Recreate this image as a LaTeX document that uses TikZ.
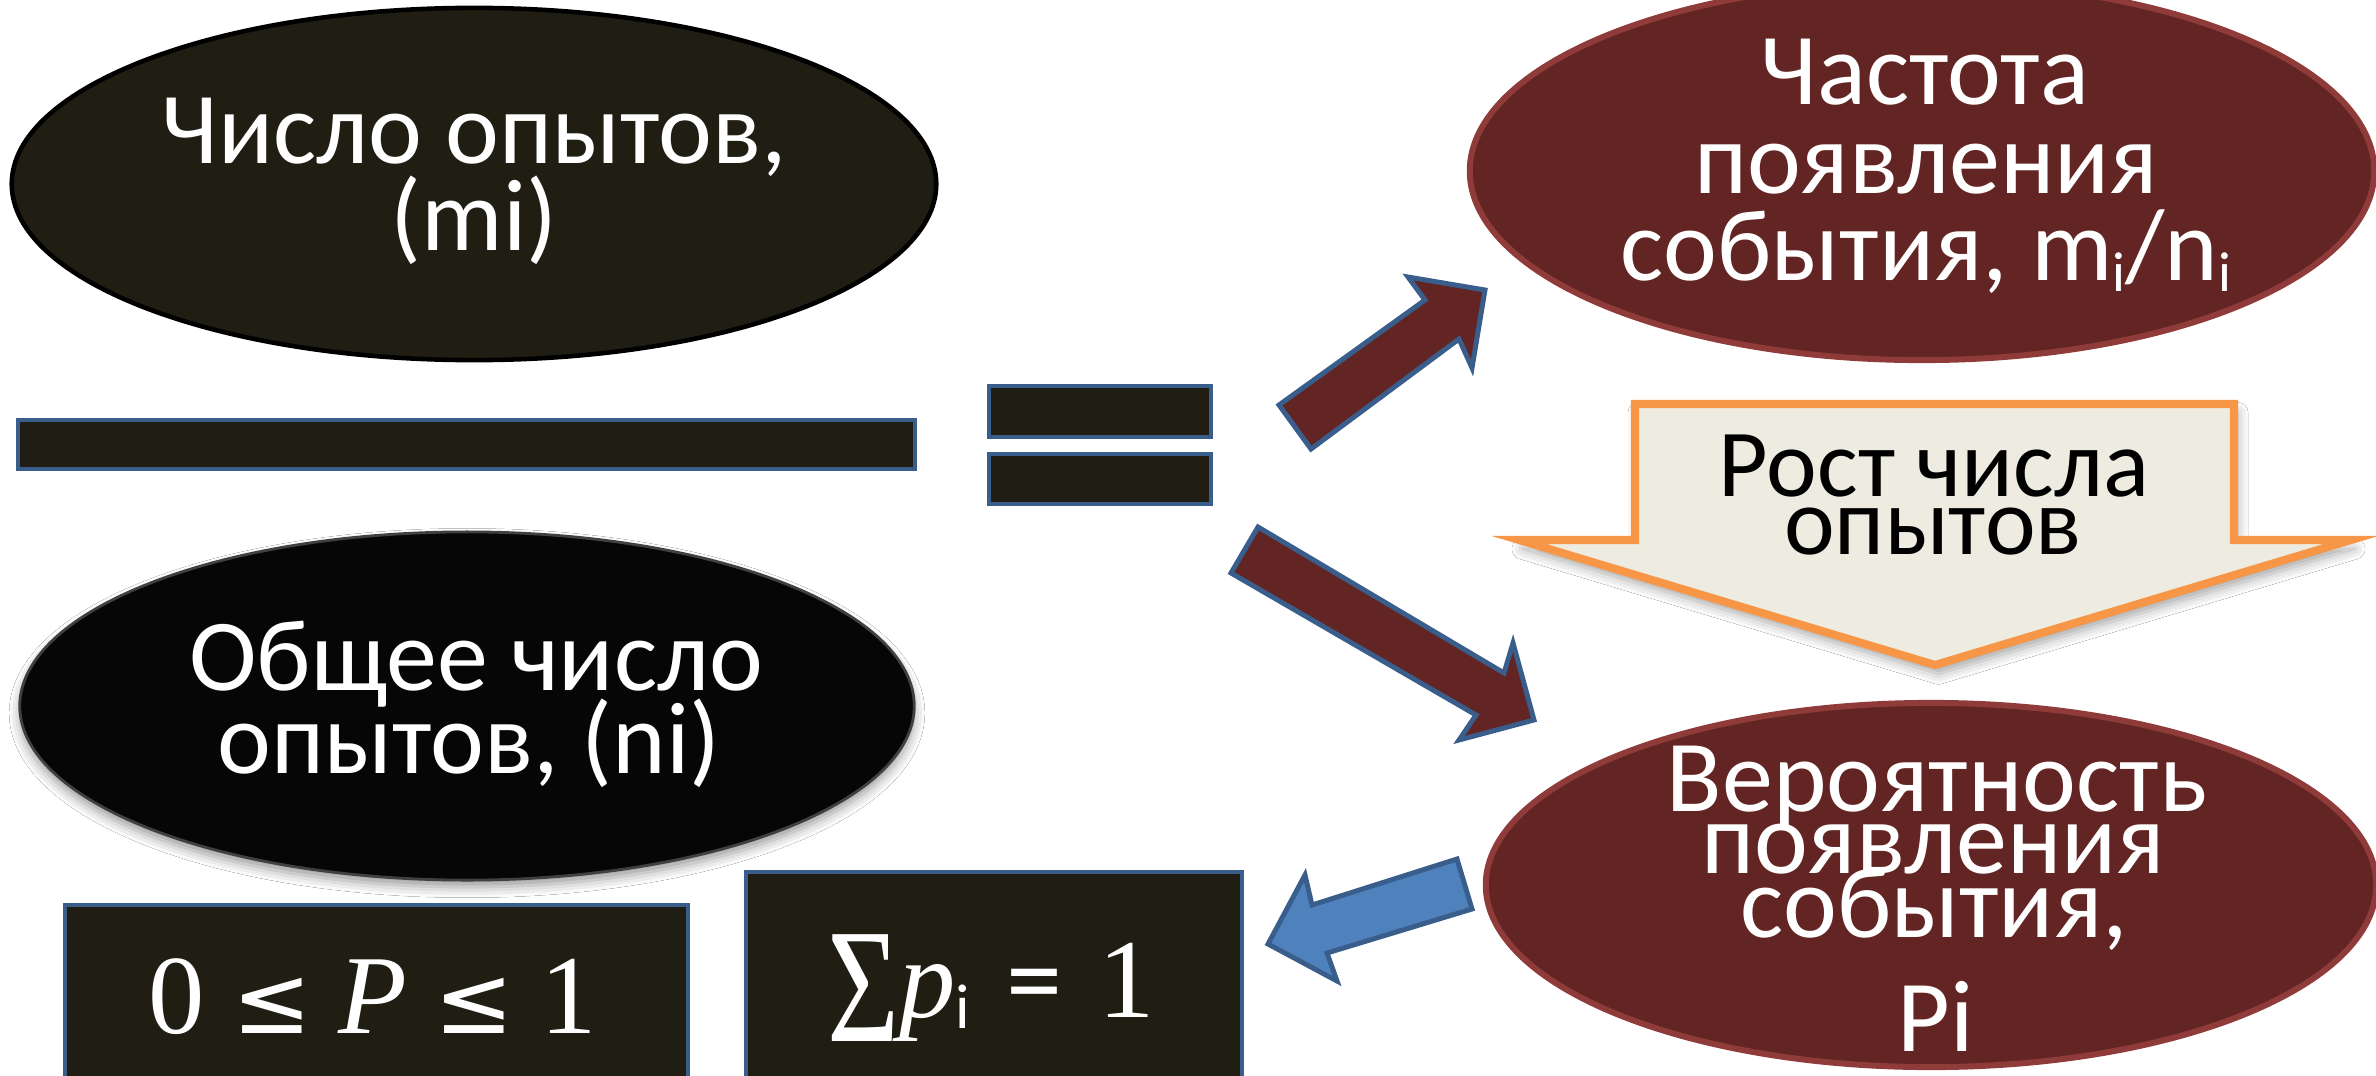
\documentclass[tikz,border=0pt]{standalone}
\usepackage{fontspec}
\setmainfont{Carlito}
\newfontfamily\formulafont{Liberation Serif}
\newfontfamily\relfont{DejaVu Sans}
\usepackage{graphicx}
\usetikzlibrary{shapes.geometric,shadows.blur}

\definecolor{inkfill}{HTML}{201E13}
\definecolor{edgeblue}{HTML}{3A5E8C}
\definecolor{wine}{HTML}{632523}
\definecolor{wineedge}{HTML}{8E3B3A}
\definecolor{skyblue}{HTML}{4F81BD}
\definecolor{amber}{HTML}{F79646}
\definecolor{paper}{HTML}{EEECE1}
\definecolor{coal}{HTML}{060606}

% lowered small "i" used as an index
\newcommand{\subi}{\raisebox{-3.4pt}{\fontsize{16pt}{16pt}\selectfont i}}
\newcommand{\mathsubi}{\raisebox{-3.4pt}{\fontsize{18pt}{18pt}\selectfont\rmfamily i}}
\newcommand{\relsign}[2][0.2em]{\hspace{#1}{\relfont\fontsize{27pt}{27pt}\selectfont #2}\hspace{#1}}
\newcommand{\eqsign}{\hspace{0.32em}{\rmfamily\fontsize{32pt}{32pt}\selectfont =}\hspace{0.32em}}

\tikzset{
  bigtext/.style={anchor=base, inner sep=0pt, text=white,
    font=\fontsize{29pt}{30pt}\selectfont},
  darktext/.style={bigtext, text=black, font=\fontsize{27.3pt}{28pt}\selectfont},
  mathtext/.style={bigtext, font=\formulafont\fontsize{32pt}{34pt}\selectfont},
  inkbar/.style={fill=inkfill, draw=edgeblue, line width=1.4pt},
  inkoval/.style={ellipse, inner sep=0pt, fill=inkfill, draw=black, line width=1.3pt},
  coaloval/.style={ellipse, inner sep=0pt, fill=coal, draw=black!75, line width=0.8pt,
    blur shadow={shadow xshift=0pt, shadow yshift=-2pt, shadow blur radius=3pt, shadow opacity=40}},
  wineoval/.style={ellipse, inner sep=0pt, fill=wine, draw=wineedge, line width=1.7pt},
  winearrow/.style={fill=wine, draw=edgeblue, line width=1.4pt, line join=miter},
  bluearrow/.style={fill=skyblue, draw=edgeblue, line width=1.4pt, line join=miter},
  amberarrow/.style={fill=paper, draw=amber, line width=2.3pt, line join=miter,
    blur shadow={shadow xshift=1pt, shadow yshift=-2.5pt, shadow blur radius=3pt, shadow opacity=35}},
}

\begin{document}
\begin{tikzpicture}[x=0.01cm, y=-0.01cm]
\useasboundingbox (0,0) rectangle (2376,1076);
\fill[white] (0,0) rectangle (2376,1076);
\clip (0,0) rectangle (2376,1076);

% fraction: numerator, bar, denominator
\node[inkoval, minimum width=9.24cm, minimum height=3.52cm] (trials) at (474,184) {};
\node[bigtext] (trialsA) at (474,163) {Число опытов,};
\node[bigtext] (trialsB) at (474,250) {(mi)};

\draw[inkbar] (18,420) rectangle (915,469);

\node[coaloval, minimum width=8.94cm, minimum height=3.48cm] (total) at (467,706) {};
\node[bigtext] (totalA) at (476,690) {Общее число};
\node[bigtext] (totalB) at (469,773) {опытов, (ni)};

% equals sign
\draw[inkbar] (989,386) rectangle (1211,437);
\draw[inkbar] (989,454) rectangle (1211,504);

% property boxes
\draw[inkbar] (65,905) rectangle (688,1110);
\node[mathtext] (bounds) at (373,1033)
  {0\relsign[0.24em]{≤}\textit{P}\relsign[0.24em]{≤}1};
\draw[inkbar] (746,872) rectangle (1242,1110);
\node[mathtext] (norm) at (991,1017)
  {\raisebox{-7pt}{\scalebox{1.1}[1.45]{Σ}}\textit{p}\mathsubi\eqsign 1};

% relative frequency
\node[wineoval, minimum width=9.04cm, minimum height=3.78cm] (freq) at (1922,171) {};
\node[bigtext] (freqA) at (1925,105) {Частота};
\node[bigtext] (freqB) at (1926,193) {появления};
\node[bigtext] (freqC) at (1926,280) {события, m\subi/n\subi};

% probability
\node[wineoval, minimum width=8.9cm, minimum height=3.64cm] (prob) at (1931,885) {};
\node[bigtext] (probA) at (1937,811) {Вероятность};
\node[bigtext] (probB) at (1933,873) {появления};
\node[bigtext] (probC) at (1934,937) {события,};
\node[bigtext] (probD) at (1936,1051) {Pi};

% growth of the number of trials
\draw[amberarrow] (1635,404) -- (2234,404) -- (2234,540) -- (2351,540)
  -- (1935,665) -- (1519,540) -- (1635,540) -- cycle;
\node[darktext] (growA) at (1934,496) {Рост числа};
\node[darktext] (growB) at (1933,554) {опытов};

% block arrows
\draw[winearrow] (1279,405) -- (1425,300) -- (1408,277) -- (1485,290)
  -- (1472,368) -- (1459,339) -- (1311,449) -- cycle;
\draw[winearrow] (1258,527) -- (1504,673) -- (1513,643) -- (1534,720)
  -- (1459,740) -- (1476,715) -- (1231,573) -- cycle;
\draw[bluearrow] (1457,859) -- (1472,909) -- (1327,953) -- (1337,981)
  -- (1268,944) -- (1305,875) -- (1312,905) -- cycle;
\end{tikzpicture}
\end{document}
